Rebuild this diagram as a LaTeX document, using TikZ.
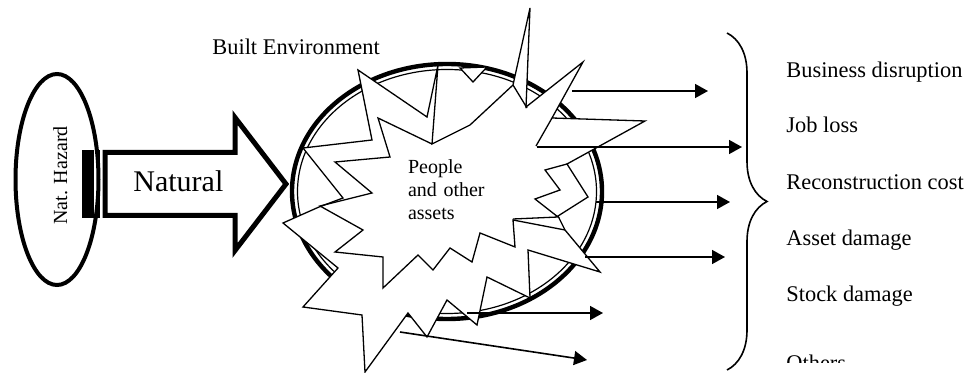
\documentclass[tikz,border=0pt]{standalone}
\usepackage{fontspec}
\setmainfont{Liberation Serif}
\usetikzlibrary{arrows.meta,shapes.geometric,decorations.pathreplacing}

\begin{document}
\begin{tikzpicture}[
  x=0.5pt, y=-0.5pt,
  font=\fontsize{11.2}{13}\selectfont,
  burst/.style={draw, fill=white, line width=0.65pt, line join=miter},
  edge/.style={line width=0.65pt},
  arr/.style={-{Triangle[length=6.5pt,width=7pt]}, line width=0.8pt},
  lbl/.style={anchor=base west, inner sep=0pt}
]
\useasboundingbox (0,0) rectangle (968,373);

% hazard source
\node[ellipse, draw, line width=2pt, minimum width=41.5pt, minimum height=105.5pt,
      inner sep=0pt] (hazard) at (57,179.5) {};
\node[lbl, rotate=90, font=\fontsize{10}{12}\selectfont] (hazardtxt) at (67,225) {Nat. Hazard};

% built environment (thick-thin line)
\node[ellipse, draw, line width=2.2pt, minimum width=155pt, minimum height=127.5pt,
      inner sep=0pt] (builtenv) at (447,191.5) {};
\node[ellipse, draw, line width=0.6pt, minimum width=149.5pt, minimum height=122pt,
      inner sep=0pt] (builtin) at (builtenv.center) {};
\node[lbl] (builtlbl) at (212,55) {Built Environment};

% striped block arrow
\draw[line width=2.5pt, fill=white, line join=miter]
  (105,152.5) -- (235,152.5) -- (235,117.5) -- (286,184) -- (235,250.5)
  -- (235,215.5) -- (105,215.5) -- cycle;
\fill (82,150) rectangle (94,218);
\fill (96.5,150) rectangle (99.5,218);
\node[lbl, font=\fontsize{15}{18}\selectfont] (naturaltxt) at (133,192) {Natural};

% burst over the built environment
\draw[burst] (358,70) -- (427,117) -- (438,65) -- (432,144) -- (470,125) -- (513,85)
  -- (530,8) -- (526,107) -- (583,62) -- (552,118) -- (645,121) -- (567,164)
  -- (588,197) -- (558,216) -- (565,230) -- (600,272) -- (528,250) -- (530,298)
  -- (487,277) -- (477,325) -- (447,300) -- (427,337) -- (408,313) -- (365,372)
  -- (362,315) -- (303,307) -- (338,268) -- (283,223) -- (319,207) -- (343,198)
  -- (303,148) -- (372,140) -- cycle;
\draw[burst] (460,68) -- (473,82) -- (487,67) -- cycle;
\draw[edge] (432,144) -- (378,118) -- (390,157) -- (335,162) -- (372,193) -- (320,206)
  -- (363,230) -- (335,252) -- (383,257) -- (383,288) -- (418,255) -- (433,270)
  -- (450,248) -- (472,262) -- (480,233) -- (515,247) -- (513,220) -- (565,230);
\draw[edge] (567,164) -- (545,170) -- (560,190) -- (535,199) -- (558,217) -- (513,219);
\draw[edge] (552,118) -- (536,146);
\draw[edge] (513,85) -- (527,108);

\node[align=left, text width=42pt, inner sep=0pt,
      font=\fontsize{10}{11.5}\selectfont] (people) at (450,190)
  {People\\\makebox[42pt][s]{and other}\\assets};

% losses
\foreach \i/\xa/\ya/\xb/\yb in {1/572/91/708/91, 2/537/147/742/147, 3/596/202/730/202,
                                4/585/257/725/257, 5/467/313/603/313, 6/400/332/587/360} {
  \coordinate (out\i) at (\xa,\ya);
  \coordinate (tip\i) at (\xb,\yb);
  \draw[arr] (out\i) -- (tip\i);
}

\coordinate (bracetop) at (727,33);
\coordinate (bracebot) at (727,370);
\draw[decorate, decoration={brace, amplitude=20pt}, line width=0.8pt] (bracetop) -- (bracebot);

\node[lbl] (lossA) at (786,78) {Business disruption};
\node[lbl] (lossB) at (786,133) {Job loss};
\node[lbl] (lossC) at (786,190) {Reconstruction cost};
\node[lbl] (lossD) at (786,246) {Asset damage};
\node[lbl] (lossE) at (786,302) {Stock damage};
\begin{scope}
  \clip (770,330) rectangle (900,363);
  \node[lbl] (lossF) at (786,371) {Others};
\end{scope}
\end{tikzpicture}
\end{document}
